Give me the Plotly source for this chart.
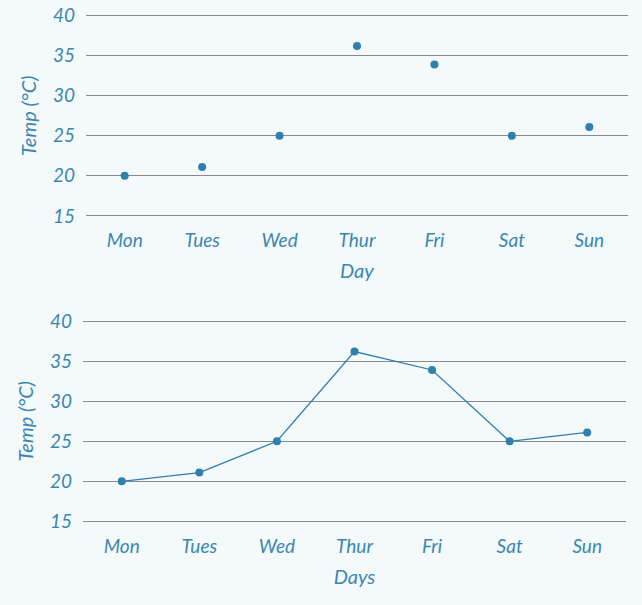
import plotly.graph_objects as go
from plotly.subplots import make_subplots

days = ["Mon", "Tues", "Wed", "Thur", "Fri", "Sat", "Sun"]
temps = [20, 21.1, 25, 36.2, 33.9, 25, 26.1]
y_ticks = [15, 20, 25, 30, 35, 40]

text_color = "#3a87b3"
mark_color = "#2f7fb0"
grid_color = "#8a8a8a"
bg = "#f4f9fa"
font_family = "Lato"

fig = make_subplots(rows=2, cols=1)

fig.add_trace(go.Scatter(x=days, y=temps, mode="markers",
                         marker=dict(color=mark_color, size=8),
                         showlegend=False), row=1, col=1)
fig.add_trace(go.Scatter(x=days, y=temps, mode="lines+markers",
                         line=dict(color=mark_color, width=1.3),
                         marker=dict(color=mark_color, size=8),
                         showlegend=False), row=2, col=1)

tick_font = dict(family=font_family, size=19, color=text_color, style="italic")
title_font = dict(family=font_family, size=20, color=text_color, style="italic")

axis_common_y = dict(range=[14.8, 40.2], tickvals=y_ticks, showgrid=True, gridcolor=grid_color,
                     gridwidth=1, zeroline=False, showline=False, ticks="", automargin=False,
                     tickfont=tick_font, ticklabelstandoff=10,
                     title=dict(text="Temp (°C)", font=title_font, standoff=10))
axis_common_x = dict(type="category", range=[-0.5, 6.5], showgrid=False, zeroline=False,
                     showline=False, ticks="", automargin=False,
                     tickfont=tick_font, ticklabelstandoff=10)

fig.update_layout(
    width=642, height=605,
    margin=dict(l=83, r=14, t=14.4, b=82.4),
    paper_bgcolor=bg, plot_bgcolor=bg,
    xaxis=dict(axis_common_x, domain=[0.0055, 1.0],
               title=dict(text="Day", font=title_font, standoff=13)),
    yaxis=dict(axis_common_y, domain=[0.6002, 1.0]),
    xaxis2=dict(axis_common_x, domain=[0.0, 0.9963],
                title=dict(text="Days", font=title_font, standoff=13)),
    yaxis2=dict(axis_common_y, domain=[0.0, 0.3998]),
)

fig.write_html("out.html")
